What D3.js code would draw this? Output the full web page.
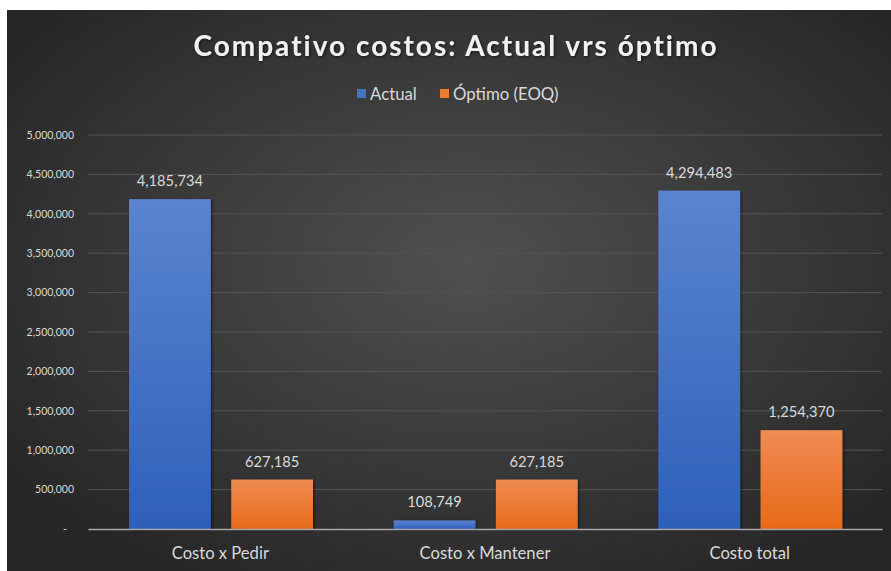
<!DOCTYPE html>
<html lang="es">
<head>
<meta charset="UTF-8">
<title>Compativo costos</title>
<script src="https://d3js.org/d3.v7.min.js"></script>
<style>
    body{ margin:0; background:#fff; }
    text{ font-family: Lato, "Open Sans", sans-serif; }
</style>
</head>
<body>
<svg width="891" height="571"></svg>
<script>
    // data
    const categories = ["Costo x Pedir", "Costo x Mantener", "Costo total"];
    const seriesNames = ["Actual", "Óptimo (EOQ)"];
    const actual = [4185734, 108749, 4294483];
    const optimo = [627185, 627185, 1254370];
    const yTicks = [0, 500000, 1000000, 1500000, 2000000, 2500000, 3000000, 3500000, 4000000, 4500000, 5000000];

    const svg = d3.select('svg');
    const defs = svg.append('defs');

    let bg = defs.append('radialGradient').attr('id', 'bg')
        .attr('cx', '52%').attr('cy', '45%').attr('r', '65%');
    bg.append('stop').attr('offset', '0%').attr('stop-color', '#505050');
    bg.append('stop').attr('offset', '100%').attr('stop-color', '#262626');

    let gBlue = defs.append('linearGradient').attr('id', 'gBlue')
        .attr('x1', 0).attr('y1', 0).attr('x2', 0).attr('y2', 1);
    gBlue.append('stop').attr('offset', '0%').attr('stop-color', '#5b84cf');
    gBlue.append('stop').attr('offset', '100%').attr('stop-color', '#2e60ba');
    let gOrange = defs.append('linearGradient').attr('id', 'gOrange')
        .attr('x1', 0).attr('y1', 0).attr('x2', 0).attr('y2', 1);
    gOrange.append('stop').attr('offset', '0%').attr('stop-color', '#f08b53');
    gOrange.append('stop').attr('offset', '100%').attr('stop-color', '#e76a18');
    const fills = ['url(#gBlue)', 'url(#gOrange)'];
    const legendColors = ['#4472c4', '#ed7d31'];

    let shadow = defs.append('filter').attr('id', 'shadow')
        .attr('x', '-20%').attr('y', '-20%').attr('width', '140%').attr('height', '140%');
    shadow.append('feDropShadow').attr('dx', 1).attr('dy', 1)
        .attr('stdDeviation', 1.5).attr('flood-color', '#000').attr('flood-opacity', 0.6);

    svg.append('rect').attr('x', 7).attr('y', 10).attr('width', 884).attr('height', 561)
        .attr('fill', 'url(#bg)');

    const x = d3.scaleBand().domain(categories).range([88, 882]);
    const y = d3.scaleLinear().domain([0, 5000000]).range([529, 135]);
    const inner = d3.scaleBand().domain([0, 1]).range([41, 225]).paddingInner(0.2);

    // gridlines
    svg.append('g').selectAll('line').data(yTicks.slice(1)).join('line')
        .attr('x1', 88).attr('x2', 882)
        .attr('y1', d => y(d)).attr('y2', d => y(d))
        .attr('stroke', '#545454').attr('stroke-width', 1);

    // y axis
    const fmt = d3.format(',');
    const yAxis = svg.append('g').attr('transform', 'translate(74,0)')
        .call(d3.axisLeft(y).tickValues(yTicks).tickSize(0).tickPadding(0)
            .tickFormat(d => d === 0 ? '-' : fmt(d)));
    yAxis.select('.domain').remove();
    yAxis.selectAll('text').attr('fill', '#d9d9d9').attr('font-size', '10.5px')
        .style('font-family', 'Lato, sans-serif');
    yAxis.selectAll('.tick').filter(d => d === 0).select('text').attr('dx', -7);

    // bars
    const rows = categories.map((c, i) => ({cat: c, vals: [actual[i], optimo[i]]}));
    const groups = svg.append('g').selectAll('g').data(rows).join('g')
        .attr('transform', d => 'translate(' + x(d.cat) + ',0)');
    groups.selectAll('rect').data(d => d.vals).join('rect')
        .attr('x', (d, i) => inner(i))
        .attr('width', inner.bandwidth())
        .attr('y', d => y(d))
        .attr('height', d => y(0) - y(d))
        .attr('fill', (d, i) => fills[i])
        .attr('filter', 'url(#shadow)');
    groups.selectAll('text').data(d => d.vals).join('text')
        .attr('x', (d, i) => inner(i) + inner.bandwidth() / 2)
        .attr('y', d => y(d) - 13)
        .attr('text-anchor', 'middle')
        .attr('fill', '#d9d9d9').attr('font-size', '14.7px')
        .text(d => fmt(d));

    // x axis
    const xAxis = svg.append('g').attr('transform', 'translate(0,529)')
        .call(d3.axisBottom(x).tickSize(0).tickPadding(18));
    xAxis.select('.domain').attr('stroke', '#a6a6a6').attr('stroke-width', 1.6);
    xAxis.selectAll('text').attr('fill', '#d9d9d9').attr('font-size', '16.6px')
        .style('font-family', 'Lato, sans-serif');

    // title
    svg.append('text').attr('x', 456).attr('y', 56).attr('text-anchor', 'middle')
        .attr('fill', '#f2f2f2').attr('font-size', '28px').attr('font-weight', 'bold')
        .attr('letter-spacing', '2px').attr('filter', 'url(#shadow)')
        .text('Compativo costos: Actual vrs óptimo');

    // legend
    const legX = [357, 440];
    const leg = svg.append('g').selectAll('g').data(seriesNames).join('g')
        .attr('transform', (d, i) => 'translate(' + legX[i] + ',89)');
    leg.append('rect').attr('width', 9).attr('height', 9).attr('fill', (d, i) => legendColors[i]);
    leg.append('text').attr('x', 13).attr('y', 11).attr('fill', '#d9d9d9')
        .attr('font-size', '16.8px').text(d => d);
</script>
</body>
</html>
